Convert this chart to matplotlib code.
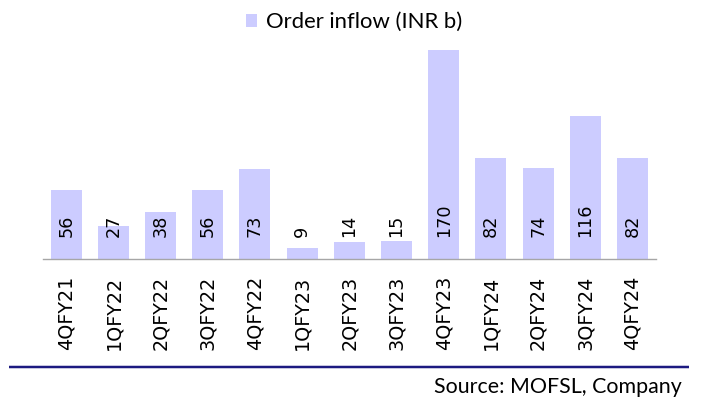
import matplotlib
matplotlib.use("Agg")
import matplotlib.pyplot as plt
from matplotlib.lines import Line2D
from matplotlib.patches import Patch

categories = ["4QFY21", "1QFY22", "2QFY22", "3QFY22", "4QFY22", "1QFY23", "2QFY23",
              "3QFY23", "4QFY23", "1QFY24", "2QFY24", "3QFY24", "4QFY24"]
order_inflow = [56, 27, 38, 56, 73, 9, 14, 15, 170, 82, 74, 116, 82]
series_name = "Order inflow (INR b)"
source_text = "Source: MOFSL, Company"

BAR_COLOR = "#CCCCFF"
LINE_COLOR = "#1C1A80"
W, H, DPI = 702, 403, 100
PT = 72 / DPI  # points per pixel

fig = plt.figure(figsize=(W / DPI, H / DPI), dpi=DPI)
fig.patch.set_facecolor("white")
renderer = fig.canvas.get_renderer()


def fit_size(text, family, target_px, start=12.0):
    t = fig.text(0, 0, text, family=family, fontsize=start)
    for _ in range(4):
        w = t.get_window_extent(renderer).width
        t.set_fontsize(t.get_fontsize() * target_px / w)
    s = t.get_fontsize()
    t.remove()
    return s


TICK_FONT = "DejaVu Sans"
TEXT_FONT = "Lato"
tick_size = fit_size("4QFY21", TICK_FONT, 74.0)
label_size = fit_size("170", TICK_FONT, 33.5)
legend_size = fit_size(series_name, TEXT_FONT, 197.0)
source_size = fit_size(source_text, TEXT_FONT, 248.0)

ax_left, ax_right = 42.7, 656.0
ax_base, ax_top = 259.0, 37.6
ax = fig.add_axes([ax_left / W, (H - ax_base) / H, (ax_right - ax_left) / W, (ax_base - ax_top) / H])

x = list(range(len(categories)))
ax.bar(x, order_inflow, width=0.657, color=BAR_COLOR, label=series_name, zorder=2)

for xi, v in zip(x, order_inflow):
    ax.annotate(str(v), xy=(xi, 0), xytext=(0, 22 * PT), textcoords="offset points",
                rotation=90, ha="center", va="bottom", fontsize=label_size,
                family=TICK_FONT, color="black")

ax.set_xlim(-0.5, len(categories) - 0.5)
ax.set_ylim(0, 180)
ax.set_xticks(x)
ax.set_xticklabels(categories, rotation=90, fontsize=tick_size, family=TICK_FONT,
                   va="top", ha="center")
ax.tick_params(axis="x", length=0, pad=16.5 * PT)
ax.set_yticks([])
for s in ["top", "right", "left"]:
    ax.spines[s].set_visible(False)
ax.spines["bottom"].set_color("#A6A6A6")
ax.spines["bottom"].set_linewidth(1.0)
ax.spines["bottom"].set_zorder(3)

handle_px = 11.5
fig.legend(handles=[Patch(facecolor=BAR_COLOR, edgecolor="none", label=series_name)],
           loc="center left", bbox_to_anchor=(246 / W, 1 - 22 / H), frameon=False,
           prop={"family": TEXT_FONT, "size": legend_size},
           handlelength=handle_px * PT / legend_size, handleheight=handle_px * PT / legend_size,
           handletextpad=8.5 * PT / legend_size, borderpad=0, borderaxespad=0)

fig.add_artist(Line2D([9 / W, 689 / W], [1 - 367 / H, 1 - 367 / H], transform=fig.transFigure,
                      color=LINE_COLOR, linewidth=2.5 * PT, solid_capstyle="butt"))
fig.text(682 / W, 1 - 393 / H, source_text, ha="right", va="baseline",
         family=TEXT_FONT, fontsize=source_size, color="black")

fig.savefig("out.png", dpi=DPI)
